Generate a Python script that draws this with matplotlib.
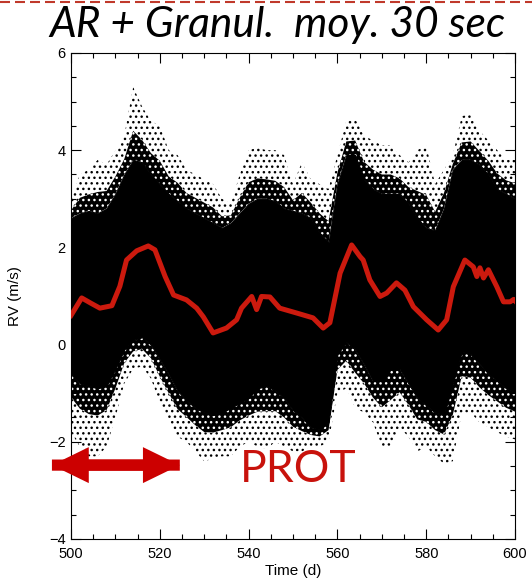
import matplotlib
matplotlib.use("Agg")
import numpy as np
import matplotlib.pyplot as plt
from matplotlib.lines import Line2D
from matplotlib.patches import FancyArrow
from matplotlib.ticker import MultipleLocator

# Envelope of the RV cloud (m/s), sampled in time (d)
t_env = [500, 502, 504, 506, 508, 510, 512, 514, 516, 518, 520, 522, 524, 526,
         528, 530, 532, 534, 536, 538, 540, 542, 544, 546, 548, 550, 552, 554,
         556, 558, 560, 562, 564, 566, 568, 570, 572, 574, 576, 578, 580, 582,
         584, 586, 588, 590, 592, 594, 596, 598, 600]
upper_dense = [2.6, 2.7, 2.75, 2.7, 2.8, 3.1, 3.5, 3.8, 3.75, 3.5, 3.3, 3.1, 2.95, 2.8,
               2.7, 2.6, 2.5, 2.4, 2.5, 2.7, 2.9, 3.0, 3.0, 2.95, 2.8, 2.75, 2.7, 2.6,
               2.3, 2.1, 3.3, 3.9, 3.9, 3.4, 3.2, 3.1, 3.1, 3.1, 2.9, 2.6, 2.4, 2.35,
               2.8, 3.6, 3.8, 3.8, 3.7, 3.5, 3.2, 3.1, 3.0]
upper_max = [3.0, 3.5, 3.6, 3.8, 3.7, 4.0, 4.3, 5.3, 4.9, 4.6, 4.5, 4.0, 3.9, 3.6,
             3.5, 3.4, 3.3, 3.0, 2.9, 3.5, 4.0, 4.05, 4.0, 4.0, 3.9, 3.3, 3.75, 3.4,
             3.3, 3.2, 3.9, 4.6, 4.65, 4.3, 4.2, 4.1, 4.1, 3.9, 3.75, 4.0, 4.1, 3.3,
             3.6, 3.9, 4.7, 4.75, 4.4, 4.2, 4.0, 3.8, 3.8]
lower_dense = [-0.6, -0.8, -0.85, -0.9, -0.85, -0.5, -0.1, 0.1, 0.15, 0.0, -0.3, -0.6, -0.95, -1.15,
               -1.3, -1.4, -1.45, -1.4, -1.3, -1.2, -1.1, -0.9, -0.85, -0.95, -1.1, -1.35, -1.5, -1.7,
               -1.75, -1.6, -0.2, 0.05, -0.1, -0.4, -0.75, -0.75, -0.5, -0.5, -0.8, -1.1, -1.25, -1.4,
               -1.45, -0.8, -0.15, -0.2, -0.4, -0.6, -0.75, -0.9, -1.0]
lower_min = [-1.8, -2.1, -2.3, -2.3, -2.1, -1.5, -0.8, -0.5, -0.45, -0.7, -1.2, -1.6, -1.9, -2.0,
             -2.2, -2.4, -2.35, -2.3, -2.3, -2.1, -2.0, -2.1, -2.15, -2.0, -2.1, -2.2, -2.2, -2.1,
             -2.1, -2.0, -1.0, -0.9, -1.3, -1.4, -1.6, -2.1, -2.1, -1.7, -1.9, -2.2, -2.1, -2.3,
             -2.45, -2.4, -1.4, -1.4, -1.6, -1.7, -1.8, -1.9, -1.95]

# 30-second running mean
t_mean = [500, 502.4, 504.5, 506.5, 509.2, 511, 512.5, 514.8, 517.4, 518.9, 521.2, 523.1,
          526, 528.3, 529.8, 532, 535, 537.3, 538.4, 540.7, 541.8, 542.9, 544.8, 547,
          550.8, 554.5, 556.8, 558.3, 560.6, 563.2, 565.1, 565.8, 567.3, 569.6, 571.1,
          573.3, 575.2, 577.1, 580.1, 582.7, 584.6, 586.1, 588.7, 590.6, 591.4, 592.1,
          592.9, 594, 595.9, 597.4, 598.9, 599.7, 600]
rv_mean = [0.6, 0.96, 0.85, 0.75, 0.8, 1.2, 1.74, 1.93, 2.03, 1.95, 1.4, 1.02,
           0.92, 0.75, 0.57, 0.24, 0.34, 0.51, 0.75, 0.99, 0.72, 0.99, 0.98, 0.75,
           0.65, 0.55, 0.34, 0.45, 1.47, 2.05, 1.81, 1.74, 1.33, 0.99, 1.06,
           1.27, 1.12, 0.78, 0.51, 0.30, 0.51, 1.19, 1.74, 1.60, 1.40, 1.58,
           1.37, 1.54, 1.19, 0.88, 0.88, 0.93, 0.9]

# Rotation period marker
prot_start, prot_end, prot_level = 495.7, 524.5, -2.48

RED = "#cc1a0e"
tick_font = "Liberation Sans"
plt.rcParams["hatch.linewidth"] = 1.0

fig = plt.figure(figsize=(5.32, 5.83), dpi=100)
ax = fig.add_axes([0.1335, 0.0755, 0.8346, 0.8336])

# cloud: dense core, a speckled fringe next to it, sparse outliers further out
ud, um = np.array(upper_dense), np.array(upper_max)
ld, lm = np.array(lower_dense), np.array(lower_min)
u_mid = ud + 0.4 * (um - ud)
l_mid = ld + 0.4 * (lm - ld)
sparse = dict(facecolor="none", edgecolor="black", linewidth=0, hatch="...")
speckled = dict(facecolor="black", edgecolor="white", linewidth=0, hatch="...")
ax.fill_between(t_env, u_mid, um, **sparse)
ax.fill_between(t_env, lm, l_mid, **sparse)
ax.fill_between(t_env, ud, u_mid, **speckled)
ax.fill_between(t_env, l_mid, ld, **speckled)
ax.fill_between(t_env, ld, ud, facecolor="black", edgecolor="black", linewidth=0.8)

ax.plot(t_mean, rv_mean, color=RED, lw=3.6, solid_joinstyle="round", zorder=5)

# double-headed arrow spanning one rotation period
for a, b in ((prot_end, prot_start), (prot_start, prot_end)):
    arr = FancyArrow(a, prot_level, b - a, 0, width=0.23, head_width=0.74,
                     head_length=8.3, length_includes_head=True, color="#cc0000",
                     linewidth=0, clip_on=False, zorder=6)
    ax.add_patch(arr)
ax.text(538.1, -2.83, "PROT", color="#c8120c", fontsize=32, family="Lato",
        ha="left", va="baseline", zorder=6)

ax.set_xlim(500, 600)
ax.set_ylim(-4, 6)
ax.xaxis.set_major_locator(MultipleLocator(20))
ax.xaxis.set_minor_locator(MultipleLocator(5))
ax.yaxis.set_major_locator(MultipleLocator(2))
ax.yaxis.set_minor_locator(MultipleLocator(0.5))
ax.tick_params(which="both", direction="in", top=True, right=True, width=0.8,
               labelsize=10.5, color="black")
ax.tick_params(which="major", length=7)
ax.tick_params(which="minor", length=3.6)
ax.tick_params(axis="x", pad=6)
ax.tick_params(axis="y", pad=4)
for lab in ax.get_xticklabels() + ax.get_yticklabels():
    lab.set_family(tick_font)
for sp in ax.spines.values():
    sp.set_linewidth(0.8)

ax.set_xlabel("Time (d)", family=tick_font, fontsize=11)
ax.set_ylabel("RV (m/s)", family=tick_font, fontsize=11)
ax.xaxis.set_label_coords(0.5, -0.052)
ax.yaxis.set_label_coords(-0.11, 0.5)

fig.text(0.521, 0.9365, "AR + Granul.  moy. 30 sec", family="Lato", style="italic",
         fontsize=30.5, ha="center", va="baseline")
fig.add_artist(Line2D([0, 1], [0.9966, 0.9966], transform=fig.transFigure,
                      color="#c0392b", lw=1.5, dashes=(4.8, 2.4)))

fig.savefig("out.png", dpi=100)
